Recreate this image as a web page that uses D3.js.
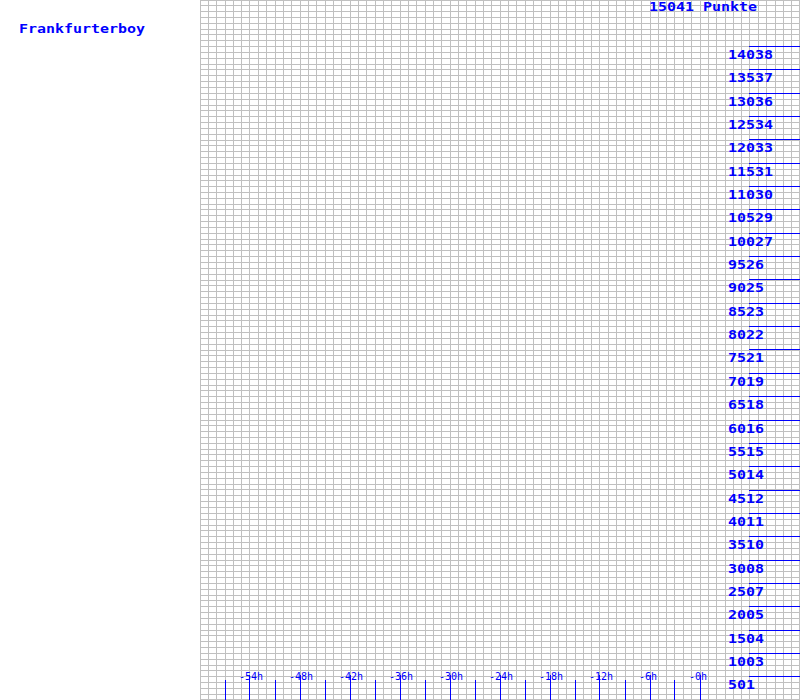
<!DOCTYPE html>
<html>
<head>
<meta charset="utf-8">
<script src="https://cdn.jsdelivr.net/npm/d3@7"></script>
<style>
  html, body { margin: 0; padding: 0; background: #ffffff; }
  svg { display: block; }
</style>
</head>
<body>
<svg id="chart" width="800" height="700"></svg>
<script>
// ---- data ----
const playerName = "Frankfurterboy";
const maxPoints = 15041;
const titleLabel = "15041 Punkte";
const yTickValues = [501, 1003, 1504, 2005, 2507, 3008, 3510, 4011, 4512, 5014,
  5515, 6016, 6518, 7019, 7521, 8022, 8523, 9025, 9526, 10027,
  10529, 11030, 11531, 12033, 12534, 13036, 13537, 14038];
const xLabelHours = [-54, -48, -42, -36, -30, -24, -18, -12, -6, 0];
const xLabelTexts = ["-54h", "-48h", "-42h", "-36h", "-30h", "-24h", "-18h", "-12h", "-6h", "-0h"];
const xMinorHours = [-57, -51, -45, -39, -33, -27, -21, -15, -9, -3];
const hourDomain = [-60, 12];

// ---- drawing ----
const W = 800, H = 700, left = 200;
const svg = d3.select("#chart");
const blue = "#0000ff";
const grey = "#c0c0c0";
const mono = "'DejaVu Sans Mono', monospace";

const x = d3.scaleLinear().domain(hourDomain).range([left, W]);
const y = d3.scaleLinear().domain([0, maxPoints]).range([H, 0]);
const crisp = v => Math.floor(v) + 0.5;

const grid = svg.append("g").attr("shape-rendering", "crispEdges")
  .attr("stroke", grey).attr("stroke-width", 1);

// vertical grid: one line per hour
grid.selectAll("line.v").data(d3.range(hourDomain[0], hourDomain[1] + 1)).join("line")
  .attr("class", "v")
  .attr("x1", d => crisp(Math.min(x(d), W - 0.5))).attr("x2", d => crisp(Math.min(x(d), W - 0.5)))
  .attr("y1", 0).attr("y2", H);

// horizontal grid: four rows per label step
const rowStep = maxPoints / 120;
grid.selectAll("line.h").data(d3.range(0, 121)).join("line")
  .attr("class", "h")
  .attr("x1", left).attr("x2", W)
  .attr("y1", d => crisp(Math.min(y(d * rowStep), H - 0.5)))
  .attr("y2", d => crisp(Math.min(y(d * rowStep), H - 0.5)));

// shared label font (bitmap-like: 13px glyphs stretched to a 9px pitch)
const stretch = 9 / 7.83;
function bigText(sel, px, py) {
  return sel.attr("fill", blue)
    .attr("font-family", mono).attr("font-weight", "bold").attr("font-size", "13px")
    .attr("transform", (d, i) => `translate(${px(d, i)},${py(d, i)}) scale(${stretch},1)`);
}

// y labels with blue lines
const yg = svg.append("g");
yg.selectAll("line").data(yTickValues).join("line")
  .attr("shape-rendering", "crispEdges")
  .attr("x1", 749).attr("x2", W)
  .attr("y1", d => crisp(y(d))).attr("y2", d => crisp(y(d)))
  .attr("stroke", blue).attr("stroke-width", 1);
bigText(yg.selectAll("text").data(yTickValues).join("text"),
  () => 728, d => Math.floor(y(d)) + 12.5)
  .text(d => d);

// x ticks
const xg = svg.append("g").attr("shape-rendering", "crispEdges");
xg.selectAll("line.minor").data(xMinorHours).join("line")
  .attr("class", "minor")
  .attr("x1", d => crisp(x(d))).attr("x2", d => crisp(x(d)))
  .attr("y1", 680).attr("y2", H)
  .attr("stroke", blue).attr("stroke-width", 1);
xg.selectAll("line.major").data(xLabelHours).join("line")
  .attr("class", "major")
  .attr("x1", d => crisp(x(d))).attr("x2", d => crisp(x(d)))
  .attr("y1", 675).attr("y2", H)
  .attr("stroke", blue).attr("stroke-width", 1);
svg.append("g").selectAll("text").data(xLabelHours).join("text")
  .attr("x", d => x(d) - 11).attr("y", 680)
  .attr("fill", blue)
  .attr("font-family", mono).attr("font-size", "10px")
  .text((d, i) => xLabelTexts[i]);

// title and name
bigText(svg.append("text").datum(titleLabel), () => 649, () => 11).text(titleLabel);
bigText(svg.append("text").datum(playerName), () => 19, () => 33).text(playerName);
</script>
</body>
</html>
